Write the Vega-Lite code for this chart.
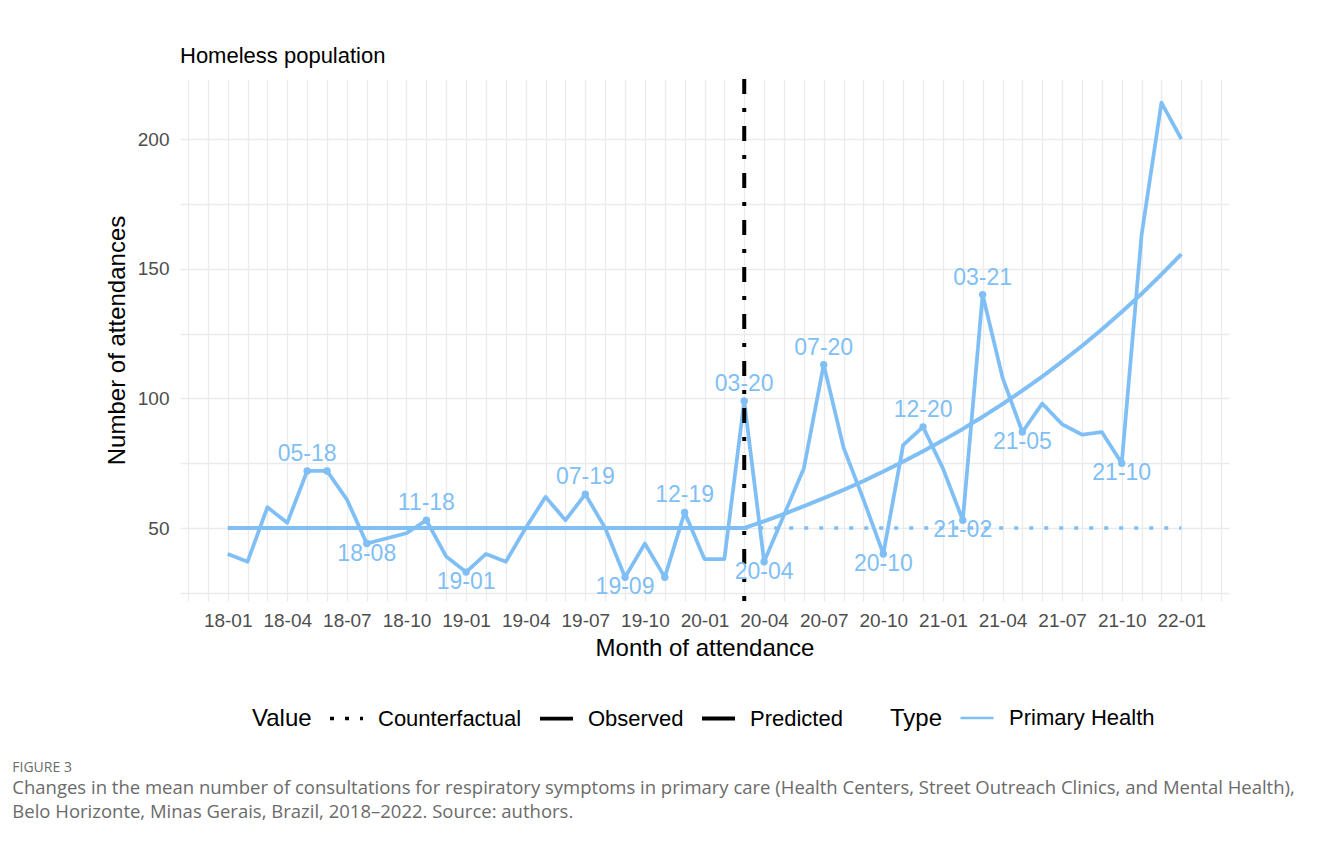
{
  "$schema": "https://vega.github.io/schema/vega-lite/v6.json",
  "padding": {"left": 12, "top": 45, "right": 10, "bottom": 10},
  "background": "white",
  "config": {
    "font": "Liberation Sans",
    "view": {"stroke": null},
    "title": {"fontWeight": "normal", "color": "black"}
  },
  "title": {
    "text": "FIGURE 3",
    "subtitle": [
      "Changes in the mean number of consultations for respiratory symptoms in primary care (Health Centers, Street Outreach Clinics, and Mental Health),",
      "Belo Horizonte, Minas Gerais, Brazil, 2018–2022. Source: authors."
    ],
    "orient": "bottom",
    "anchor": "start",
    "dx": -93,
    "offset": 30,
    "font": "Open Sans",
    "fontSize": 14,
    "fontWeight": "normal",
    "color": "#6b6b6b",
    "subtitleFont": "Open Sans",
    "subtitleFontSize": 18.5,
    "subtitleColor": "#6b6b6b",
    "subtitlePadding": 4,
    "subtitleLineHeight": 24
  },
  "datasets": {
    "series": [
      {"t": 0, "v": 40, "value": "Observed", "type": "Primary Health"},
      {"t": 1, "v": 37, "value": "Observed", "type": "Primary Health"},
      {"t": 2, "v": 58, "value": "Observed", "type": "Primary Health"},
      {"t": 3, "v": 52, "value": "Observed", "type": "Primary Health"},
      {"t": 4, "v": 72, "value": "Observed", "type": "Primary Health"},
      {"t": 5, "v": 72, "value": "Observed", "type": "Primary Health"},
      {"t": 6, "v": 61, "value": "Observed", "type": "Primary Health"},
      {"t": 7, "v": 44, "value": "Observed", "type": "Primary Health"},
      {"t": 8, "v": 46, "value": "Observed", "type": "Primary Health"},
      {"t": 9, "v": 48, "value": "Observed", "type": "Primary Health"},
      {"t": 10, "v": 53, "value": "Observed", "type": "Primary Health"},
      {"t": 11, "v": 39, "value": "Observed", "type": "Primary Health"},
      {"t": 12, "v": 33, "value": "Observed", "type": "Primary Health"},
      {"t": 13, "v": 40, "value": "Observed", "type": "Primary Health"},
      {"t": 14, "v": 37, "value": "Observed", "type": "Primary Health"},
      {"t": 15, "v": 50, "value": "Observed", "type": "Primary Health"},
      {"t": 16, "v": 62, "value": "Observed", "type": "Primary Health"},
      {"t": 17, "v": 53, "value": "Observed", "type": "Primary Health"},
      {"t": 18, "v": 63, "value": "Observed", "type": "Primary Health"},
      {"t": 19, "v": 50, "value": "Observed", "type": "Primary Health"},
      {"t": 20, "v": 31, "value": "Observed", "type": "Primary Health"},
      {"t": 21, "v": 44, "value": "Observed", "type": "Primary Health"},
      {"t": 22, "v": 31, "value": "Observed", "type": "Primary Health"},
      {"t": 23, "v": 56, "value": "Observed", "type": "Primary Health"},
      {"t": 24, "v": 38, "value": "Observed", "type": "Primary Health"},
      {"t": 25, "v": 38, "value": "Observed", "type": "Primary Health"},
      {"t": 26, "v": 99, "value": "Observed", "type": "Primary Health"},
      {"t": 27, "v": 37, "value": "Observed", "type": "Primary Health"},
      {"t": 28, "v": 55, "value": "Observed", "type": "Primary Health"},
      {"t": 29, "v": 73, "value": "Observed", "type": "Primary Health"},
      {"t": 30, "v": 113, "value": "Observed", "type": "Primary Health"},
      {"t": 31, "v": 81, "value": "Observed", "type": "Primary Health"},
      {"t": 32, "v": 61, "value": "Observed", "type": "Primary Health"},
      {"t": 33, "v": 40, "value": "Observed", "type": "Primary Health"},
      {"t": 34, "v": 82, "value": "Observed", "type": "Primary Health"},
      {"t": 35, "v": 89, "value": "Observed", "type": "Primary Health"},
      {"t": 36, "v": 73, "value": "Observed", "type": "Primary Health"},
      {"t": 37, "v": 53, "value": "Observed", "type": "Primary Health"},
      {"t": 38, "v": 140, "value": "Observed", "type": "Primary Health"},
      {"t": 39, "v": 108, "value": "Observed", "type": "Primary Health"},
      {"t": 40, "v": 87, "value": "Observed", "type": "Primary Health"},
      {"t": 41, "v": 98, "value": "Observed", "type": "Primary Health"},
      {"t": 42, "v": 90, "value": "Observed", "type": "Primary Health"},
      {"t": 43, "v": 86, "value": "Observed", "type": "Primary Health"},
      {"t": 44, "v": 87, "value": "Observed", "type": "Primary Health"},
      {"t": 45, "v": 75, "value": "Observed", "type": "Primary Health"},
      {"t": 46, "v": 163, "value": "Observed", "type": "Primary Health"},
      {"t": 47, "v": 214, "value": "Observed", "type": "Primary Health"},
      {"t": 48, "v": 200, "value": "Observed", "type": "Primary Health"},
      {"t": 0, "v": 50, "value": "Predicted", "type": "Primary Health"},
      {"t": 1, "v": 50, "value": "Predicted", "type": "Primary Health"},
      {"t": 2, "v": 50, "value": "Predicted", "type": "Primary Health"},
      {"t": 3, "v": 50, "value": "Predicted", "type": "Primary Health"},
      {"t": 4, "v": 50, "value": "Predicted", "type": "Primary Health"},
      {"t": 5, "v": 50, "value": "Predicted", "type": "Primary Health"},
      {"t": 6, "v": 50, "value": "Predicted", "type": "Primary Health"},
      {"t": 7, "v": 50, "value": "Predicted", "type": "Primary Health"},
      {"t": 8, "v": 50, "value": "Predicted", "type": "Primary Health"},
      {"t": 9, "v": 50, "value": "Predicted", "type": "Primary Health"},
      {"t": 10, "v": 50, "value": "Predicted", "type": "Primary Health"},
      {"t": 11, "v": 50, "value": "Predicted", "type": "Primary Health"},
      {"t": 12, "v": 50, "value": "Predicted", "type": "Primary Health"},
      {"t": 13, "v": 50, "value": "Predicted", "type": "Primary Health"},
      {"t": 14, "v": 50, "value": "Predicted", "type": "Primary Health"},
      {"t": 15, "v": 50, "value": "Predicted", "type": "Primary Health"},
      {"t": 16, "v": 50, "value": "Predicted", "type": "Primary Health"},
      {"t": 17, "v": 50, "value": "Predicted", "type": "Primary Health"},
      {"t": 18, "v": 50, "value": "Predicted", "type": "Primary Health"},
      {"t": 19, "v": 50, "value": "Predicted", "type": "Primary Health"},
      {"t": 20, "v": 50, "value": "Predicted", "type": "Primary Health"},
      {"t": 21, "v": 50, "value": "Predicted", "type": "Primary Health"},
      {"t": 22, "v": 50, "value": "Predicted", "type": "Primary Health"},
      {"t": 23, "v": 50, "value": "Predicted", "type": "Primary Health"},
      {"t": 24, "v": 50, "value": "Predicted", "type": "Primary Health"},
      {"t": 25, "v": 50, "value": "Predicted", "type": "Primary Health"},
      {"t": 26, "v": 50, "value": "Predicted", "type": "Primary Health"},
      {"t": 27, "v": 52.6, "value": "Predicted", "type": "Primary Health"},
      {"t": 28, "v": 55.4, "value": "Predicted", "type": "Primary Health"},
      {"t": 29, "v": 58.4, "value": "Predicted", "type": "Primary Health"},
      {"t": 30, "v": 61.5, "value": "Predicted", "type": "Primary Health"},
      {"t": 31, "v": 64.7, "value": "Predicted", "type": "Primary Health"},
      {"t": 32, "v": 68.1, "value": "Predicted", "type": "Primary Health"},
      {"t": 33, "v": 71.8, "value": "Predicted", "type": "Primary Health"},
      {"t": 34, "v": 75.6, "value": "Predicted", "type": "Primary Health"},
      {"t": 35, "v": 79.6, "value": "Predicted", "type": "Primary Health"},
      {"t": 36, "v": 83.8, "value": "Predicted", "type": "Primary Health"},
      {"t": 37, "v": 88.2, "value": "Predicted", "type": "Primary Health"},
      {"t": 38, "v": 92.9, "value": "Predicted", "type": "Primary Health"},
      {"t": 39, "v": 97.8, "value": "Predicted", "type": "Primary Health"},
      {"t": 40, "v": 103.0, "value": "Predicted", "type": "Primary Health"},
      {"t": 41, "v": 108.4, "value": "Predicted", "type": "Primary Health"},
      {"t": 42, "v": 114.2, "value": "Predicted", "type": "Primary Health"},
      {"t": 43, "v": 120.2, "value": "Predicted", "type": "Primary Health"},
      {"t": 44, "v": 126.6, "value": "Predicted", "type": "Primary Health"},
      {"t": 45, "v": 133.3, "value": "Predicted", "type": "Primary Health"},
      {"t": 46, "v": 140.3, "value": "Predicted", "type": "Primary Health"},
      {"t": 47, "v": 147.8, "value": "Predicted", "type": "Primary Health"},
      {"t": 48, "v": 155.6, "value": "Predicted", "type": "Primary Health"},
      {"t": 26, "v": 50, "value": "Counterfactual", "type": "Primary Health"},
      {"t": 27, "v": 50, "value": "Counterfactual", "type": "Primary Health"},
      {"t": 28, "v": 50, "value": "Counterfactual", "type": "Primary Health"},
      {"t": 29, "v": 50, "value": "Counterfactual", "type": "Primary Health"},
      {"t": 30, "v": 50, "value": "Counterfactual", "type": "Primary Health"},
      {"t": 31, "v": 50, "value": "Counterfactual", "type": "Primary Health"},
      {"t": 32, "v": 50, "value": "Counterfactual", "type": "Primary Health"},
      {"t": 33, "v": 50, "value": "Counterfactual", "type": "Primary Health"},
      {"t": 34, "v": 50, "value": "Counterfactual", "type": "Primary Health"},
      {"t": 35, "v": 50, "value": "Counterfactual", "type": "Primary Health"},
      {"t": 36, "v": 50, "value": "Counterfactual", "type": "Primary Health"},
      {"t": 37, "v": 50, "value": "Counterfactual", "type": "Primary Health"},
      {"t": 38, "v": 50, "value": "Counterfactual", "type": "Primary Health"},
      {"t": 39, "v": 50, "value": "Counterfactual", "type": "Primary Health"},
      {"t": 40, "v": 50, "value": "Counterfactual", "type": "Primary Health"},
      {"t": 41, "v": 50, "value": "Counterfactual", "type": "Primary Health"},
      {"t": 42, "v": 50, "value": "Counterfactual", "type": "Primary Health"},
      {"t": 43, "v": 50, "value": "Counterfactual", "type": "Primary Health"},
      {"t": 44, "v": 50, "value": "Counterfactual", "type": "Primary Health"},
      {"t": 45, "v": 50, "value": "Counterfactual", "type": "Primary Health"},
      {"t": 46, "v": 50, "value": "Counterfactual", "type": "Primary Health"},
      {"t": 47, "v": 50, "value": "Counterfactual", "type": "Primary Health"},
      {"t": 48, "v": 50, "value": "Counterfactual", "type": "Primary Health"}
    ],
    "highlights": [
      {"t": 4, "v": 72, "label": "05-18", "kind": "peak"},
      {"t": 5, "v": 72, "kind": "peak"},
      {"t": 7, "v": 44, "label": "18-08", "kind": "trough"},
      {"t": 10, "v": 53, "label": "11-18", "kind": "peak"},
      {"t": 12, "v": 33, "label": "19-01", "kind": "trough"},
      {"t": 18, "v": 63, "label": "07-19", "kind": "peak"},
      {"t": 20, "v": 31, "label": "19-09", "kind": "trough"},
      {"t": 22, "v": 31, "kind": "trough"},
      {"t": 23, "v": 56, "label": "12-19", "kind": "peak"},
      {"t": 26, "v": 99, "label": "03-20", "kind": "peak"},
      {"t": 27, "v": 37, "label": "20-04", "kind": "trough"},
      {"t": 30, "v": 113, "label": "07-20", "kind": "peak"},
      {"t": 33, "v": 40, "label": "20-10", "kind": "trough"},
      {"t": 35, "v": 89, "label": "12-20", "kind": "peak"},
      {"t": 37, "v": 53, "label": "21-02", "kind": "trough"},
      {"t": 38, "v": 140, "label": "03-21", "kind": "peak"},
      {"t": 40, "v": 87, "label": "21-05", "kind": "trough"},
      {"t": 45, "v": 75, "label": "21-10", "kind": "trough"}
    ],
    "intervention": [{"t": 26}]
  },
  "vconcat": [
    {
      "width": 1049,
      "height": 522,
      "title": {"text": "Homeless population", "anchor": "start", "frame": "group", "fontSize": 22, "fontWeight": "normal", "color": "black", "offset": 9},
      "encoding": {
        "x": {
          "field": "t",
          "type": "quantitative",
          "scale": {"domain": [-2.4, 50.4], "nice": false, "zero": false},
          "axis": {
            "title": "Month of attendance",
            "values": [-2,-1,0,1,2,3,4,5,6,7,8,9,10,11,12,13,14,15,16,17,18,19,20,21,22,23,24,25,26,27,28,29,30,31,32,33,34,35,36,37,38,39,40,41,42,43,44,45,46,47,48,49,50],
            "labelExpr": "(datum.value % 3 === 0 && datum.value >= 0 && datum.value <= 48) ? ((18 + floor(datum.value / 12)) + '-' + (((datum.value % 12) + 1) < 10 ? '0' : '') + ((datum.value % 12) + 1)) : ''",
            "grid": true,
            "gridColor": "#EBEBEB",
            "gridWidth": 1.3,
            "domain": false,
            "ticks": false,
            "labelFontSize": 19,
            "labelColor": "#4D4D4D",
            "labelPadding": 10,
            "labelOverlap": false,
            "labelFlush": false,
            "titleFontSize": 24,
            "titleFontWeight": "normal",
            "titleColor": "black",
            "titlePadding": 6
          }
        }
      },
      "layer": [
        {
          "data": {"name": "series"},
          "mark": {"type": "line", "strokeJoin": "round", "strokeCap": "butt"},
          "encoding": {
            "y": {
              "field": "v",
              "type": "quantitative",
              "scale": {"domain": [21.85, 223.15], "nice": false, "zero": false},
              "axis": {
                "title": "Number of attendances",
                "values": [25, 50, 75, 100, 125, 150, 175, 200],
                "labelExpr": "datum.value % 50 === 0 ? datum.label : ''",
                "grid": true,
                "gridColor": "#EBEBEB",
                "gridWidth": 1.3,
                "domain": false,
                "ticks": false,
                "labelFontSize": 19,
                "labelColor": "#4D4D4D",
                "labelPadding": 11,
                "titleFontSize": 24,
                "titleFontWeight": "normal",
                "titleColor": "black",
                "titlePadding": 8
              }
            },
            "color": {
              "field": "type",
              "type": "nominal",
              "scale": {"domain": ["Primary Health"], "range": ["#7FBFF5"]},
              "legend": {
                "title": "Type",
                "orient": "none",
                "legendX": 710,
                "legendY": 621,
                "direction": "horizontal",
                "gridAlign": "none",
                "titleOrient": "left",
                "titleAnchor": "middle",
                "titleBaseline": "line-top",
                "titleLineHeight": 8,
                "titleFontSize": 24,
                "titleFontWeight": "normal",
                "titleColor": "black",
                "titlePadding": 16,
                "labelFontSize": 22,
                "labelColor": "black",
                "labelOffset": 14,
                "symbolType": "stroke",
                "symbolSize": 1089,
                "symbolStrokeWidth": 2.5
              }
            },
            "strokeDash": {
              "field": "value",
              "type": "nominal",
              "scale": {"domain": ["Counterfactual", "Observed", "Predicted"], "range": [[4, 11], [1, 0], [1, 0]]},
              "legend": {
                "title": "Value",
                "orient": "none",
                "legendX": 72,
                "legendY": 621,
                "direction": "horizontal",
                "gridAlign": "none",
                "titleOrient": "left",
                "titleAnchor": "middle",
                "titleBaseline": "line-top",
                "titleLineHeight": 8,
                "titleFontSize": 24,
                "titleFontWeight": "normal",
                "titleColor": "black",
                "titlePadding": 16,
                "labelFontSize": 22,
                "labelColor": "black",
                "labelOffset": 13,
                "columnPadding": 10,
                "symbolType": "stroke",
                "symbolSize": 1089,
                "symbolStrokeWidth": 4,
                "symbolStrokeColor": "black"
              }
            },
            "strokeWidth": {
              "field": "value",
              "type": "nominal",
              "scale": {"domain": ["Counterfactual", "Observed", "Predicted"], "range": [3.5, 4, 3.5]},
              "legend": null
            }
          }
        },
        {
          "data": {"name": "intervention"},
          "mark": {"type": "rule", "color": "black", "strokeWidth": 4, "strokeDash": [15, 14, 4, 14]},
          "encoding": {}
        },
        {
          "data": {"name": "highlights"},
          "mark": {"type": "circle", "size": 55, "color": "#7FBFF5", "opacity": 1},
          "encoding": {
            "y": {"field": "v", "type": "quantitative", "title": "Number of attendances"}
          }
        },
        {
          "data": {"name": "highlights"},
          "transform": [{"filter": "datum.label && datum.kind === 'peak'"}],
          "mark": {"type": "text", "fontSize": 23, "color": "#7FBFF5", "dy": -17, "baseline": "middle", "align": "center"},
          "encoding": {
            "y": {"field": "v", "type": "quantitative", "title": "Number of attendances"},
            "text": {"field": "label"}
          }
        },
        {
          "data": {"name": "highlights"},
          "transform": [{"filter": "datum.label && datum.kind === 'trough'"}],
          "mark": {"type": "text", "fontSize": 23, "color": "#7FBFF5", "dy": 10, "baseline": "middle", "align": "center"},
          "encoding": {
            "y": {"field": "v", "type": "quantitative", "title": "Number of attendances"},
            "text": {"field": "label"}
          }
        }
      ]
    }
  ]
}
